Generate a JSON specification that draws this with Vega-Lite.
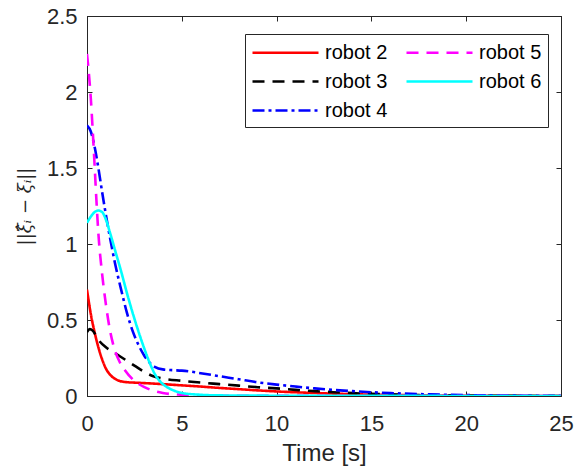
{
  "$schema": "https://vega.github.io/schema/vega-lite/v6.json",
  "autosize": "none",
  "width": 474,
  "height": 380,
  "padding": {"left": 87, "top": 16, "right": 15, "bottom": 71},
  "background": "white",
  "config": {
    "font": "Liberation Sans",
    "view": {"stroke": "#262626", "strokeWidth": 1},
    "axis": {"grid": false, "domainColor": "#262626", "tickColor": "#262626", "labelColor": "#262626", "titleColor": "#262626", "labelFont": "Liberation Sans", "labelFontSize": 22, "tickSize": -5, "titleFontWeight": "normal"}
  },
  "datasets": {
    "curves": [
      {"t": 0, "v": 0.70, "robot": "robot 2"},
      {"t": 0.2, "v": 0.54, "robot": "robot 2"},
      {"t": 0.4, "v": 0.42, "robot": "robot 2"},
      {"t": 0.6, "v": 0.32, "robot": "robot 2"},
      {"t": 0.8, "v": 0.24, "robot": "robot 2"},
      {"t": 1.0, "v": 0.18, "robot": "robot 2"},
      {"t": 1.3, "v": 0.13, "robot": "robot 2"},
      {"t": 1.6, "v": 0.105, "robot": "robot 2"},
      {"t": 2.0, "v": 0.092, "robot": "robot 2"},
      {"t": 2.5, "v": 0.088, "robot": "robot 2"},
      {"t": 3, "v": 0.085, "robot": "robot 2"},
      {"t": 4, "v": 0.078, "robot": "robot 2"},
      {"t": 5, "v": 0.07, "robot": "robot 2"},
      {"t": 6, "v": 0.062, "robot": "robot 2"},
      {"t": 7, "v": 0.053, "robot": "robot 2"},
      {"t": 8, "v": 0.045, "robot": "robot 2"},
      {"t": 9, "v": 0.037, "robot": "robot 2"},
      {"t": 10, "v": 0.03, "robot": "robot 2"},
      {"t": 12, "v": 0.02, "robot": "robot 2"},
      {"t": 14, "v": 0.012, "robot": "robot 2"},
      {"t": 16, "v": 0.007, "robot": "robot 2"},
      {"t": 18, "v": 0.004, "robot": "robot 2"},
      {"t": 20, "v": 0.002, "robot": "robot 2"},
      {"t": 25, "v": 0.0, "robot": "robot 2"},

      {"t": 0, "v": 0.42, "robot": "robot 3"},
      {"t": 0.15, "v": 0.44, "robot": "robot 3"},
      {"t": 0.3, "v": 0.43, "robot": "robot 3"},
      {"t": 0.6, "v": 0.37, "robot": "robot 3"},
      {"t": 1.0, "v": 0.32, "robot": "robot 3"},
      {"t": 1.5, "v": 0.28, "robot": "robot 3"},
      {"t": 2.0, "v": 0.24, "robot": "robot 3"},
      {"t": 2.5, "v": 0.20, "robot": "robot 3"},
      {"t": 3.0, "v": 0.16, "robot": "robot 3"},
      {"t": 3.5, "v": 0.13, "robot": "robot 3"},
      {"t": 4, "v": 0.115, "robot": "robot 3"},
      {"t": 5, "v": 0.10, "robot": "robot 3"},
      {"t": 6, "v": 0.088, "robot": "robot 3"},
      {"t": 7, "v": 0.078, "robot": "robot 3"},
      {"t": 8, "v": 0.068, "robot": "robot 3"},
      {"t": 9, "v": 0.058, "robot": "robot 3"},
      {"t": 10, "v": 0.05, "robot": "robot 3"},
      {"t": 11, "v": 0.04, "robot": "robot 3"},
      {"t": 12, "v": 0.032, "robot": "robot 3"},
      {"t": 13, "v": 0.025, "robot": "robot 3"},
      {"t": 14, "v": 0.019, "robot": "robot 3"},
      {"t": 15, "v": 0.014, "robot": "robot 3"},
      {"t": 17, "v": 0.008, "robot": "robot 3"},
      {"t": 20, "v": 0.003, "robot": "robot 3"},
      {"t": 25, "v": 0.0, "robot": "robot 3"},

      {"t": 0, "v": 1.78, "robot": "robot 4"},
      {"t": 0.2, "v": 1.74, "robot": "robot 4"},
      {"t": 0.4, "v": 1.64, "robot": "robot 4"},
      {"t": 0.6, "v": 1.50, "robot": "robot 4"},
      {"t": 0.8, "v": 1.34, "robot": "robot 4"},
      {"t": 1.0, "v": 1.19, "robot": "robot 4"},
      {"t": 1.2, "v": 1.05, "robot": "robot 4"},
      {"t": 1.5, "v": 0.86, "robot": "robot 4"},
      {"t": 1.8, "v": 0.70, "robot": "robot 4"},
      {"t": 2.1, "v": 0.55, "robot": "robot 4"},
      {"t": 2.4, "v": 0.43, "robot": "robot 4"},
      {"t": 2.7, "v": 0.34, "robot": "robot 4"},
      {"t": 3.0, "v": 0.27, "robot": "robot 4"},
      {"t": 3.3, "v": 0.22, "robot": "robot 4"},
      {"t": 3.6, "v": 0.19, "robot": "robot 4"},
      {"t": 4.0, "v": 0.175, "robot": "robot 4"},
      {"t": 4.5, "v": 0.17, "robot": "robot 4"},
      {"t": 5.0, "v": 0.167, "robot": "robot 4"},
      {"t": 5.5, "v": 0.16, "robot": "robot 4"},
      {"t": 6, "v": 0.15, "robot": "robot 4"},
      {"t": 7, "v": 0.13, "robot": "robot 4"},
      {"t": 8, "v": 0.11, "robot": "robot 4"},
      {"t": 9, "v": 0.09, "robot": "robot 4"},
      {"t": 10, "v": 0.075, "robot": "robot 4"},
      {"t": 11, "v": 0.062, "robot": "robot 4"},
      {"t": 12, "v": 0.05, "robot": "robot 4"},
      {"t": 13, "v": 0.04, "robot": "robot 4"},
      {"t": 14, "v": 0.032, "robot": "robot 4"},
      {"t": 15, "v": 0.025, "robot": "robot 4"},
      {"t": 16, "v": 0.019, "robot": "robot 4"},
      {"t": 18, "v": 0.011, "robot": "robot 4"},
      {"t": 20, "v": 0.006, "robot": "robot 4"},
      {"t": 22, "v": 0.003, "robot": "robot 4"},
      {"t": 25, "v": 0.001, "robot": "robot 4"},

      {"t": 0, "v": 2.25, "robot": "robot 5"},
      {"t": 0.1, "v": 2.12, "robot": "robot 5"},
      {"t": 0.2, "v": 1.96, "robot": "robot 5"},
      {"t": 0.3, "v": 1.75, "robot": "robot 5"},
      {"t": 0.4, "v": 1.52, "robot": "robot 5"},
      {"t": 0.5, "v": 1.28, "robot": "robot 5"},
      {"t": 0.6, "v": 1.07, "robot": "robot 5"},
      {"t": 0.8, "v": 0.80, "robot": "robot 5"},
      {"t": 1.0, "v": 0.60, "robot": "robot 5"},
      {"t": 1.2, "v": 0.44, "robot": "robot 5"},
      {"t": 1.4, "v": 0.33, "robot": "robot 5"},
      {"t": 1.7, "v": 0.23, "robot": "robot 5"},
      {"t": 2.0, "v": 0.17, "robot": "robot 5"},
      {"t": 2.5, "v": 0.10, "robot": "robot 5"},
      {"t": 3.0, "v": 0.06, "robot": "robot 5"},
      {"t": 3.5, "v": 0.035, "robot": "robot 5"},
      {"t": 4.0, "v": 0.02, "robot": "robot 5"},
      {"t": 5, "v": 0.008, "robot": "robot 5"},
      {"t": 6, "v": 0.003, "robot": "robot 5"},
      {"t": 8, "v": 0.001, "robot": "robot 5"},
      {"t": 25, "v": 0.0, "robot": "robot 5"},

      {"t": 0, "v": 1.14, "robot": "robot 6"},
      {"t": 0.2, "v": 1.18, "robot": "robot 6"},
      {"t": 0.4, "v": 1.21, "robot": "robot 6"},
      {"t": 0.6, "v": 1.22, "robot": "robot 6"},
      {"t": 0.8, "v": 1.21, "robot": "robot 6"},
      {"t": 1.0, "v": 1.16, "robot": "robot 6"},
      {"t": 1.2, "v": 1.08, "robot": "robot 6"},
      {"t": 1.5, "v": 0.95, "robot": "robot 6"},
      {"t": 1.8, "v": 0.82, "robot": "robot 6"},
      {"t": 2.1, "v": 0.68, "robot": "robot 6"},
      {"t": 2.4, "v": 0.55, "robot": "robot 6"},
      {"t": 2.7, "v": 0.43, "robot": "robot 6"},
      {"t": 3.0, "v": 0.32, "robot": "robot 6"},
      {"t": 3.3, "v": 0.22, "robot": "robot 6"},
      {"t": 3.6, "v": 0.14, "robot": "robot 6"},
      {"t": 3.9, "v": 0.09, "robot": "robot 6"},
      {"t": 4.2, "v": 0.06, "robot": "robot 6"},
      {"t": 4.6, "v": 0.035, "robot": "robot 6"},
      {"t": 5, "v": 0.02, "robot": "robot 6"},
      {"t": 6, "v": 0.008, "robot": "robot 6"},
      {"t": 7, "v": 0.004, "robot": "robot 6"},
      {"t": 10, "v": 0.002, "robot": "robot 6"},
      {"t": 25, "v": 0.0, "robot": "robot 6"}
    ]
  },
  "data": {"name": "curves"},
  "layer": [
    {
      "mark": {"type": "line", "strokeWidth": 2.6, "interpolate": "monotone", "clip": true},
      "encoding": {
        "x": {"field": "t", "type": "quantitative", "scale": {"domain": [0, 25], "nice": false},
              "axis": {"values": [0, 5, 10, 15, 20, 25], "title": "Time [s]", "titleFontSize": 24, "titleFont": "Liberation Sans", "labelFontSize": 22, "labelPadding": 22, "titlePadding": 7, "format": "~g", "labelFlush": false}},
        "y": {"field": "v", "type": "quantitative", "scale": {"domain": [0, 2.5], "nice": false},
              "axis": {"values": [0, 0.5, 1, 1.5, 2, 2.5], "title": "||ξ̂ᵢ − ξᵢ||", "titleFont": "DejaVu Serif", "titleFontStyle": "italic", "titleFontSize": 18, "labelFontSize": 22, "labelPadding": 15, "titlePadding": 12, "format": "~g"}},
        "color": {"field": "robot", "type": "nominal",
                  "scale": {"domain": ["robot 2", "robot 3", "robot 4", "robot 5", "robot 6"], "range": ["#ff0000", "#000000", "#0000ff", "#ff00ff", "#00ffff"]},
                  "legend": {"title": null, "orient": "none", "legendX": 158, "legendY": 18, "columns": 2, "direction": "vertical",
                             "strokeColor": "#262626", "fillColor": "white", "padding": 6, "symbolType": "M-1,0H5", "symbolSize": 484,
                             "symbolStrokeWidth": 2.6, "labelFontSize": 20, "labelFont": "Liberation Sans", "labelColor": "#000000", "rowPadding": 6, "columnPadding": 13, "labelOffset": 49}},
        "strokeDash": {"field": "robot", "type": "nominal",
                       "scale": {"domain": ["robot 2", "robot 3", "robot 4", "robot 5", "robot 6"], "range": [[1, 0], [12, 8], [12, 4, 3, 4], [12, 8], [1, 0]]},
                       "legend": null}
      }
    },
    {
      "mark": {"type": "point", "opacity": 0},
      "encoding": {
        "x": {"field": "t", "type": "quantitative", "axis": {"orient": "top", "values": [0, 5, 10, 15, 20, 25], "labels": false, "title": null}},
        "y": {"field": "v", "type": "quantitative", "axis": {"orient": "right", "values": [0, 0.5, 1, 1.5, 2, 2.5], "labels": false, "title": null}}
      }
    }
  ],
  "resolve": {"axis": {"x": "independent", "y": "independent"}}
}
